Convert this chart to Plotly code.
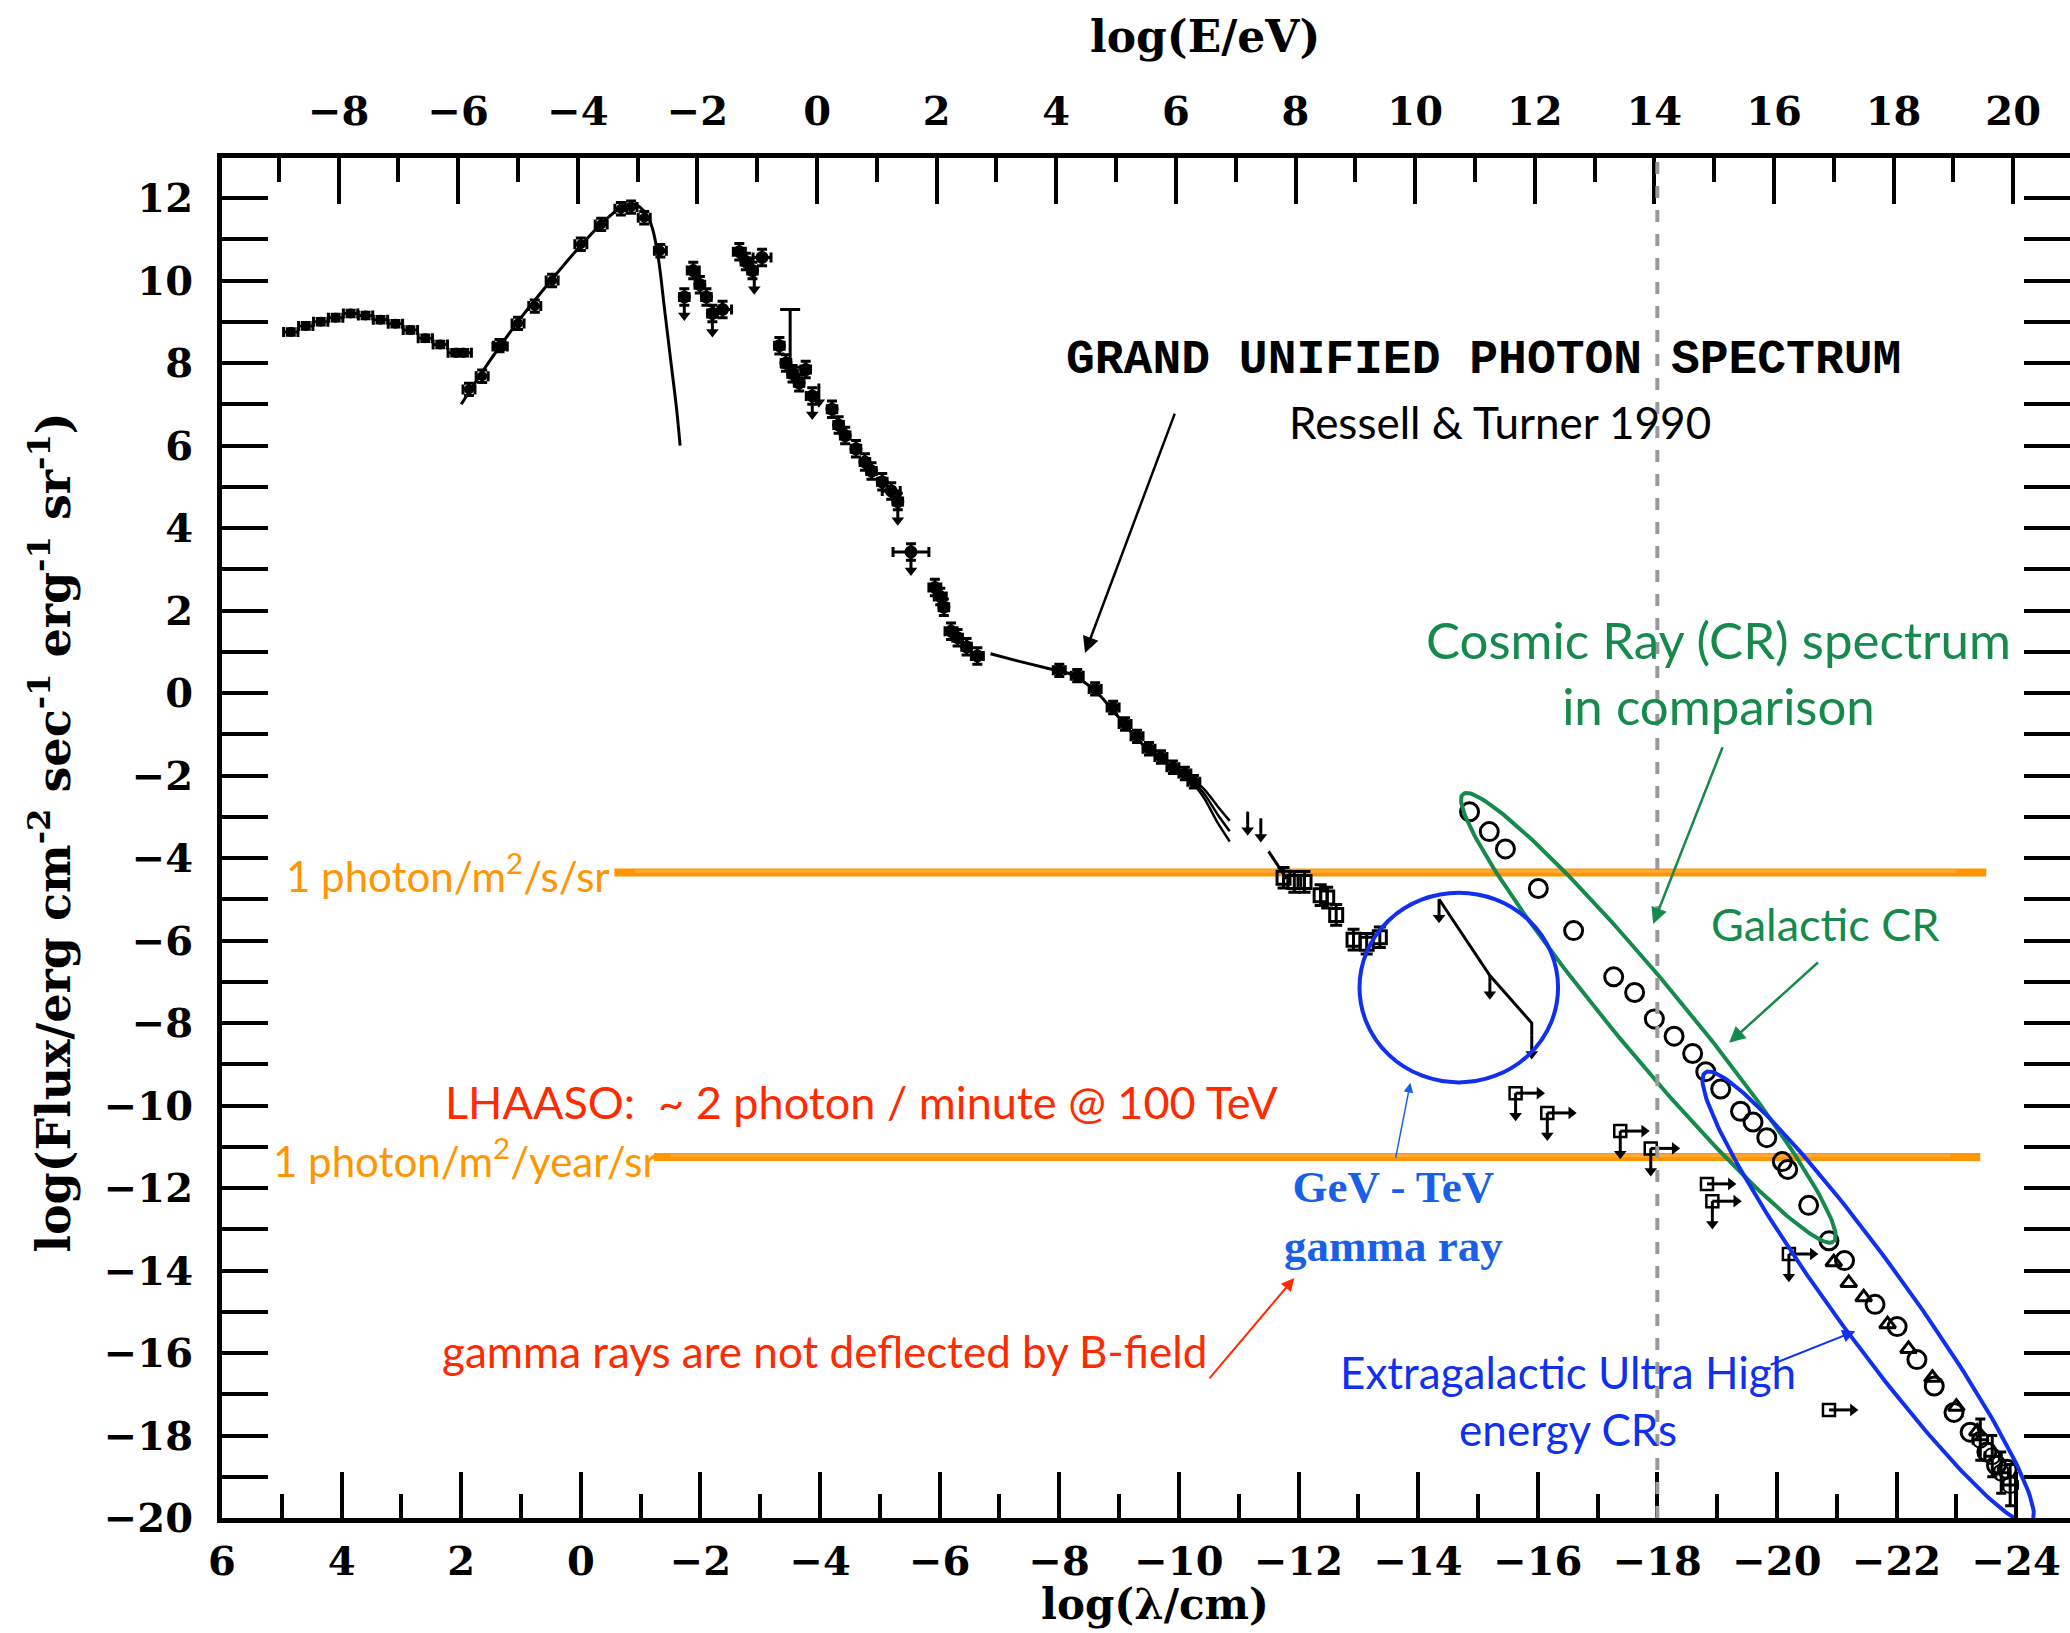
import numpy as np
import plotly.graph_objects as go

# ---------------- data (log lambda/cm, log flux) ----------------
radio_lam = [4.85, 4.6, 4.35, 4.1, 3.85, 3.6, 3.35, 3.1, 2.85, 2.6, 2.35, 2.1, 1.95, 1.35]
radio_F = [8.75, 8.9, 9.0, 9.1, 9.2, 9.15, 9.05, 8.95, 8.8, 8.6, 8.45, 8.25, 8.25, 8.4]

cmb_pt_lam = [1.87, 1.65, 1.36, 1.05, 0.77, 0.48, 0.0, -0.34, -0.67, -0.84, -1.06, -1.33]
cmb_pt_F = [7.36, 7.68, 8.42, 8.96, 9.38, 10.0, 10.88, 11.36, 11.74, 11.78, 11.52, 10.72]

cmb_curve_lam = [2.0, 1.5, 1.0, 0.5, 0.0, -0.4, -0.7, -0.9, -1.1, -1.2, -1.3, -1.4, -1.5, -1.6, -1.66]
cmb_curve_F = [7.0, 8.1, 9.1, 10.0, 10.85, 11.45, 11.8, 11.85, 11.6, 11.25, 10.5, 9.3, 8.1, 6.9, 6.0]

xr_lam = [-1.73, -1.88, -1.99, -2.1, -2.2, -2.37, -2.65, -2.76, -2.87, -3.03,
          -3.32, -3.43, -3.54, -3.65, -3.76, -3.87, -4.2, -4.31, -4.42, -4.6,
          -4.75, -4.86, -5.04, -5.19, -5.3, -5.52, -5.92, -6.01, -6.07, -6.19,
          -6.3, -6.45, -6.63]
xr_F = [9.6, 10.24, 9.9, 9.6, 9.2, 9.3, 10.7, 10.46, 10.24, 10.56,
        8.42, 8.0, 7.74, 7.52, 7.84, 7.2, 6.88, 6.5, 6.24, 5.92,
        5.6, 5.38, 5.12, 4.9, 4.64, 3.42, 2.56, 2.34, 2.08, 1.5,
        1.34, 1.12, 0.9]
xr_xerr = [0.08, 0.1, 0.08, 0.08, 0.08, 0.15, 0.1, 0.08, 0.08, 0.15,
           0.08, 0.08, 0.08, 0.08, 0.08, 0.1, 0.08, 0.08, 0.08, 0.08,
           0.08, 0.08, 0.08, 0.15, 0.08, 0.3, 0.1, 0.1, 0.08, 0.1,
           0.08, 0.08, 0.1]

xrb_lam = [-6.85, -7.3, -7.8, -8.2, -8.6, -9.0, -9.4, -9.8, -10.1]
xrb_F = [0.95, 0.78, 0.6, 0.45, 0.05, -0.6, -1.25, -1.7, -1.95]
branch_lam = [-10.1, -10.4, -10.65, -10.85]
branch1_F = [-1.95, -2.3, -2.75, -3.1]
branch2_F = [-1.95, -2.4, -2.95, -3.35]
branch3_F = [-1.95, -2.5, -3.15, -3.6]

gam_lam = [-8.0, -8.3, -8.6, -8.9, -9.1, -9.3, -9.5, -9.7, -9.9, -10.1, -10.25]
gam_F = [0.55, 0.42, 0.1, -0.35, -0.75, -1.05, -1.35, -1.55, -1.8, -1.95, -2.15]

seg_lam = [-11.5, -11.8]
seg_F = [-3.84, -4.5]

sq_lam = [-11.75, -11.93, -12.1, -12.37, -12.48, -12.63, -12.92, -13.14, -13.36]
sq_F = [-4.48, -4.58, -4.58, -4.9, -4.96, -5.38, -5.98, -6.08, -5.92]

tev_lam = [-14.35, -15.2, -15.9, -15.9]
tev_F = [-5.0, -6.85, -8.0, -8.3]

# upper limits (downward arrows)
ul_lam = [-1.73, -2.2, -2.9, -3.87, -3.98, -5.3, -5.52, -11.15, -11.37, -14.35, -15.2, -15.9]
ul_F = [9.6, 9.2, 10.24, 7.2, 7.5, 4.64, 3.42, -2.88, -3.04, -5.0, -6.85, -8.3]

# squares with rightward arrows (TeV-PeV limits)
lim_lam = [-15.63, -16.16, -17.38, -17.89, -18.83, -18.92, -20.2, -20.87]
lim_F = [-9.7, -10.18, -10.62, -11.04, -11.9, -12.32, -13.6, -17.38]
lim_down_lam = [-15.63, -16.16, -17.38, -17.89, -18.92, -20.2]
lim_down_F = [-9.7, -10.18, -10.62, -11.04, -12.32, -13.6]

# cosmic ray spectrum (open circles)
cr_lam = [-14.86, -15.19, -15.46, -16.01, -16.6, -17.27, -17.62, -17.95, -18.28, -18.59,
          -18.81, -19.06, -19.39, -19.6, -19.83, -20.09, -20.18, -20.53, -20.87, -21.13,
          -21.64, -22.01, -22.34, -22.63, -22.96, -23.23, -23.51, -23.67, -23.85]
cr_F = [-2.88, -3.36, -3.78, -4.74, -5.76, -6.88, -7.26, -7.9, -8.32, -8.74,
        -9.18, -9.6, -10.14, -10.4, -10.78, -11.36, -11.55, -12.42, -13.28, -13.76,
        -14.82, -15.36, -16.16, -16.8, -17.44, -17.92, -18.4, -18.72, -18.82]
tri_lam = [-20.95, -21.2, -21.45, -21.85, -22.2, -22.6, -23.0, -23.35]
tri_F = [-13.8, -14.3, -14.65, -15.3, -15.9, -16.6, -17.3, -17.9]
eb_lam = [-23.4, -23.6, -23.75, -23.9]
eb_F = [-18.1, -18.5, -18.9, -19.2]

bottom_ticks = list(range(6, -25, -2))
top_ticks = list(range(-8, 21, 2))
y_ticks = list(range(12, -21, -2))

# ---------------- geometry ----------------
W, H = 2070, 1633
ML, MR, MT, MB = 222, 0, 158, 115
LAM_RANGE = [6.0, -24.9]
Y_RANGE = [-20.0, 12.97]
E_OFFSET = -3.95
sx = (W - ML - MR) / (LAM_RANGE[0] - LAM_RANGE[1])
sy = (H - MT - MB) / (Y_RANGE[1] - Y_RANGE[0])

fig = go.Figure()
BLK = "black"


def ebar(lam, F, xe=None, ye=None, sym="circle", size=8, width=3):
    kw = {}
    if xe is not None:
        kw["error_x"] = dict(type="data", array=xe, color=BLK, thickness=3, width=5)
    if ye is not None:
        kw["error_y"] = dict(type="data", array=ye, color=BLK, thickness=3, width=5)
    return go.Scatter(
        x=lam, y=F, mode="markers",
        marker=dict(symbol=sym, size=size, color=BLK, line=dict(color=BLK, width=2)),
        showlegend=False, hoverinfo="skip", **kw)


fig.add_trace(ebar(radio_lam, radio_F, xe=[0.12] * len(radio_lam), ye=[0.08] * len(radio_lam), size=8))
fig.add_trace(go.Scatter(x=cmb_curve_lam, y=cmb_curve_F, mode="lines", line=dict(color=BLK, width=3, shape="spline"),
                         showlegend=False, hoverinfo="skip"))
fig.add_trace(ebar(cmb_pt_lam, cmb_pt_F, xe=[0.1] * len(cmb_pt_lam), ye=[0.15] * len(cmb_pt_lam), size=8))
fig.add_trace(ebar(xr_lam, xr_F, xe=xr_xerr, ye=[0.2] * len(xr_lam), size=11))
fig.add_trace(go.Scatter(x=[-3.5], y=[7.9], mode="markers", marker=dict(size=1, color=BLK),
                         error_y=dict(type="data", symmetric=False, array=[1.4], arrayminus=[0], color=BLK, thickness=3, width=10),
                         showlegend=False, hoverinfo="skip"))
fig.add_trace(go.Scatter(x=xrb_lam, y=xrb_F, mode="lines", line=dict(color=BLK, width=3, shape="spline"),
                         showlegend=False, hoverinfo="skip"))
for bF in (branch1_F, branch2_F, branch3_F):
    fig.add_trace(go.Scatter(x=branch_lam, y=bF, mode="lines", line=dict(color=BLK, width=2.5, shape="spline"),
                             showlegend=False, hoverinfo="skip"))
fig.add_trace(ebar(gam_lam, gam_F, xe=[0.1] * len(gam_lam), ye=[0.15] * len(gam_lam), size=10))
fig.add_trace(go.Scatter(x=seg_lam, y=seg_F, mode="lines", line=dict(color=BLK, width=3),
                         showlegend=False, hoverinfo="skip"))
fig.add_trace(go.Scatter(x=sq_lam, y=sq_F, mode="markers",
                         marker=dict(symbol="square-open", size=13, color=BLK, line=dict(width=3)),
                         error_y=dict(type="data", array=[0.25] * len(sq_lam), color=BLK, thickness=3, width=6),
                         showlegend=False, hoverinfo="skip"))
fig.add_trace(go.Scatter(x=tev_lam, y=tev_F, mode="lines", line=dict(color=BLK, width=3),
                         showlegend=False, hoverinfo="skip"))

# downward arrows for upper limits
UL = 0.45
fig.add_trace(go.Scatter(x=ul_lam, y=ul_F, mode="markers", marker=dict(size=1, color=BLK),
                         error_y=dict(type="data", symmetric=False, array=[0] * len(ul_lam),
                                      arrayminus=[UL] * len(ul_lam), color=BLK, thickness=3, width=0),
                         showlegend=False, hoverinfo="skip"))
fig.add_trace(go.Scatter(x=ul_lam, y=[f - UL for f in ul_F], mode="markers",
                         marker=dict(symbol="triangle-down", size=11, color=BLK),
                         showlegend=False, hoverinfo="skip"))

# squares with right + down arrows
RL = 0.4
fig.add_trace(go.Scatter(x=lim_lam, y=lim_F, mode="markers",
                         marker=dict(symbol="square-open", size=12, color=BLK, line=dict(width=2.5)),
                         error_x=dict(type="data", symmetric=False, array=[0] * len(lim_lam),
                                      arrayminus=[RL] * len(lim_lam), color=BLK, thickness=3, width=0),
                         showlegend=False, hoverinfo="skip"))
fig.add_trace(go.Scatter(x=[l - RL for l in lim_lam], y=lim_F, mode="markers",
                         marker=dict(symbol="triangle-right", size=11, color=BLK),
                         showlegend=False, hoverinfo="skip"))
fig.add_trace(go.Scatter(x=lim_down_lam, y=lim_down_F, mode="markers", marker=dict(size=1, color=BLK),
                         error_y=dict(type="data", symmetric=False, array=[0] * len(lim_down_lam),
                                      arrayminus=[0.55] * len(lim_down_lam), color=BLK, thickness=3, width=0),
                         showlegend=False, hoverinfo="skip"))
fig.add_trace(go.Scatter(x=lim_down_lam, y=[f - 0.55 for f in lim_down_F], mode="markers",
                         marker=dict(symbol="triangle-down", size=11, color=BLK),
                         showlegend=False, hoverinfo="skip"))

# cosmic rays
fig.add_trace(go.Scatter(x=cr_lam, y=cr_F, mode="markers",
                         marker=dict(symbol="circle-open", size=18, color=BLK, line=dict(width=3)),
                         showlegend=False, hoverinfo="skip"))
fig.add_trace(go.Scatter(x=tri_lam, y=tri_F, mode="markers",
                         marker=dict(symbol="triangle-up-open", size=14, color=BLK, line=dict(width=3)),
                         showlegend=False, hoverinfo="skip"))
fig.add_trace(ebar(eb_lam, eb_F, xe=[0.12] * len(eb_lam), ye=[0.5] * len(eb_lam), sym="circle-open", size=16))


# ---------------- ellipses (computed in pixel space) ----------------
def ellipse(p1, p2, half_minor_px, n=200):
    X1, Y1 = -p1[0] * sx, -p1[1] * sy
    X2, Y2 = -p2[0] * sx, -p2[1] * sy
    cx, cy = (X1 + X2) / 2, (Y1 + Y2) / 2
    a = np.hypot(X2 - X1, Y2 - Y1) / 2
    th = np.arctan2(Y2 - Y1, X2 - X1)
    t = np.linspace(0, 2 * np.pi, n)
    ex = cx + a * np.cos(t) * np.cos(th) - half_minor_px * np.sin(t) * np.sin(th)
    ey = cy + a * np.cos(t) * np.sin(th) + half_minor_px * np.sin(t) * np.cos(th)
    return (-ex / sx).tolist(), (-ey / sy).tolist()


gx, gy = ellipse((-14.75, -2.45), (-20.95, -13.3), 35)
fig.add_trace(go.Scatter(x=gx, y=gy, mode="lines", line=dict(color="#168a4c", width=4),
                         showlegend=False, hoverinfo="skip"))
bx, by = ellipse((-18.8, -9.2), (-24.25, -20.1), 37)
fig.add_trace(go.Scatter(x=bx, y=by, mode="lines", line=dict(color="#1030f0", width=4),
                         showlegend=False, hoverinfo="skip"))

# invisible trace for top axis
fig.add_trace(go.Scatter(x=[0], y=[0], xaxis="x2", mode="markers", marker=dict(opacity=0),
                         showlegend=False, hoverinfo="skip"))

# ---------------- shapes ----------------
ORANGE = "#FF9500"
shapes = [
    dict(type="line", x0=-0.56, x1=-23.5, y0=-4.35, y1=-4.35, xref="x", yref="y",
         line=dict(color=ORANGE, width=8), layer="below"),
    dict(type="line", x0=-0.9, x1=-23.0, y0=-4.32, y1=-4.32, xref="x", yref="y",
         line=dict(color="#FFAA33", width=3), layer="below"),
    dict(type="line", x0=-1.22, x1=-23.4, y0=-11.25, y1=-11.25, xref="x", yref="y",
         line=dict(color=ORANGE, width=8), layer="below"),
    dict(type="line", x0=-1.5, x1=-22.9, y0=-11.22, y1=-11.22, xref="x", yref="y",
         line=dict(color="#FFAA33", width=3), layer="below"),
    dict(type="line", x0=-18, x1=-18, y0=0, y1=1, xref="x", yref="paper",
         line=dict(color="#9a9a9a", width=4, dash="dash")),
    dict(type="circle", x0=-14.68 + 1.66, x1=-14.68 - 1.66, y0=-7.14 - 2.3, y1=-7.14 + 2.3,
         xref="x", yref="y", line=dict(color="#1030f0", width=4)),
]

# ---------------- annotations ----------------
AXF = "DejaVu Serif"
MONO = "Liberation Mono"
SANS = "Lato"
RED = "#FF2A00"
GREEN = "#168a4c"
BLUE = "#1030f0"
LBLUE = "#1a5fe8"
ann = []


def txt(x, y, t, color, size, family=SANS, xanchor="center", weight="normal", align="center"):
    ann.append(dict(x=x, y=y, xref="x", yref="y", text=t, showarrow=False, xanchor=xanchor,
                    yanchor="middle", align=align,
                    font=dict(family=family, size=size, color=color, weight=weight)))


def arrow(x0, y0, x1, y1, color, width=2.5, head=2):
    ann.append(dict(x=x1, y=y1, ax=x0, ay=y0, xref="x", yref="y", axref="x", ayref="y",
                    text="", showarrow=True, arrowhead=head, arrowsize=1.3, arrowwidth=width,
                    arrowcolor=color))


txt(-15.1, 8.07, "GRAND UNIFIED PHOTON SPECTRUM", BLK, 48, MONO, weight="bold")
txt(-15.37, 6.57, "Ressell &amp; Turner 1990", BLK, 44)
arrow(-9.94, 6.81, -8.43, 0.97, BLK, 2.5)
txt(-19.03, 0.5, "Cosmic Ray (CR) spectrum<br>in comparison", GREEN, 51)
arrow(-19.1, -1.28, -17.93, -5.6, GREEN, 2.5)
txt(-20.82, -5.6, "Galactic CR", GREEN, 45)
arrow(-20.71, -6.5, -19.2, -8.48, GREEN, 2.5)
txt(4.96, -4.36, "1 photon/m<sup>2</sup>/s/sr", ORANGE, 42, xanchor="left")
txt(5.18, -11.27, "1 photon/m<sup>2</sup>/year/sr", ORANGE, 42, xanchor="left")
txt(-4.69, -9.92, "LHAASO:  ~ 2 photon / minute @ 100 TeV", RED, 45)
txt(-4.08, -15.95, "gamma rays are not deflected by B-field", RED, 44)
arrow(-10.49, -16.65, -11.93, -14.18, RED, 2)
txt(-13.58, -12.68, "<b>GeV - TeV<br>gamma ray</b>", LBLUE, 45, "Liberation Serif")
arrow(-13.62, -11.3, -13.87, -9.45, LBLUE, 1.5)
txt(-16.51, -17.15, "Extragalactic Ultra High<br>energy CRs", BLUE, 44)
arrow(-19.87, -16.3, -21.31, -15.47, BLUE, 2)

# axis titles
ann.append(dict(x=0.532, y=1, xref="paper", yref="paper", text="log(E/eV)", showarrow=False,
                yanchor="bottom", yshift=94, font=dict(family=AXF, size=44, color=BLK, weight="bold")))
ann.append(dict(x=-9.6, y=0, xref="x", yref="paper", text="log(λ/cm)", showarrow=False,
                yanchor="top", yshift=-60, font=dict(family=AXF, size=42, color=BLK, weight="bold")))
ann.append(dict(x=0, y=0.504, xref="paper", yref="paper", xanchor="center", xshift=-172,
                text="log(Flux/erg cm<sup>-2</sup> sec<sup>-1</sup> erg<sup>-1</sup> sr<sup>-1</sup>)",
                showarrow=False, textangle=-90,
                font=dict(family=AXF, size=46, color=BLK, weight="bold")))

tickfont = dict(family=AXF, size=40, color=BLK, weight="bold")


def axis_style(col):
    return dict(showgrid=False, zeroline=False, showline=True, linecolor=col, linewidth=5,
                ticks="inside", ticklen=46, tickwidth=4, tickcolor=col, tickfont=tickfont,
                automargin=False,
                minor=dict(ticks="inside", ticklen=24, tickwidth=4, tickcolor=col, dtick=1, showgrid=False))


fig.update_layout(
    width=W, height=H,
    margin=dict(l=ML, r=MR, t=MT, b=MB),
    paper_bgcolor="white", plot_bgcolor="white", showlegend=False,
    shapes=shapes, annotations=ann,
    xaxis=dict(range=LAM_RANGE, tickmode="array", tickvals=bottom_ticks,
               ticktext=[str(v).replace("-", "−") for v in bottom_ticks],
               ticklabelstandoff=4, **axis_style(BLK)),
    xaxis2=dict(range=[-LAM_RANGE[0] + E_OFFSET, -LAM_RANGE[1] + E_OFFSET], overlaying="x", side="top",
                anchor="y", tickmode="array", tickvals=top_ticks,
                ticktext=[str(v).replace("-", "−") for v in top_ticks],
                ticklabelstandoff=12, **axis_style(BLK)),
    yaxis=dict(range=Y_RANGE, tickmode="array", tickvals=y_ticks,
               ticktext=[str(v).replace("-", "−") for v in y_ticks],
               mirror="allticks", ticklabelstandoff=16, **axis_style(BLK)),
)

fig.write_html("out.html")
